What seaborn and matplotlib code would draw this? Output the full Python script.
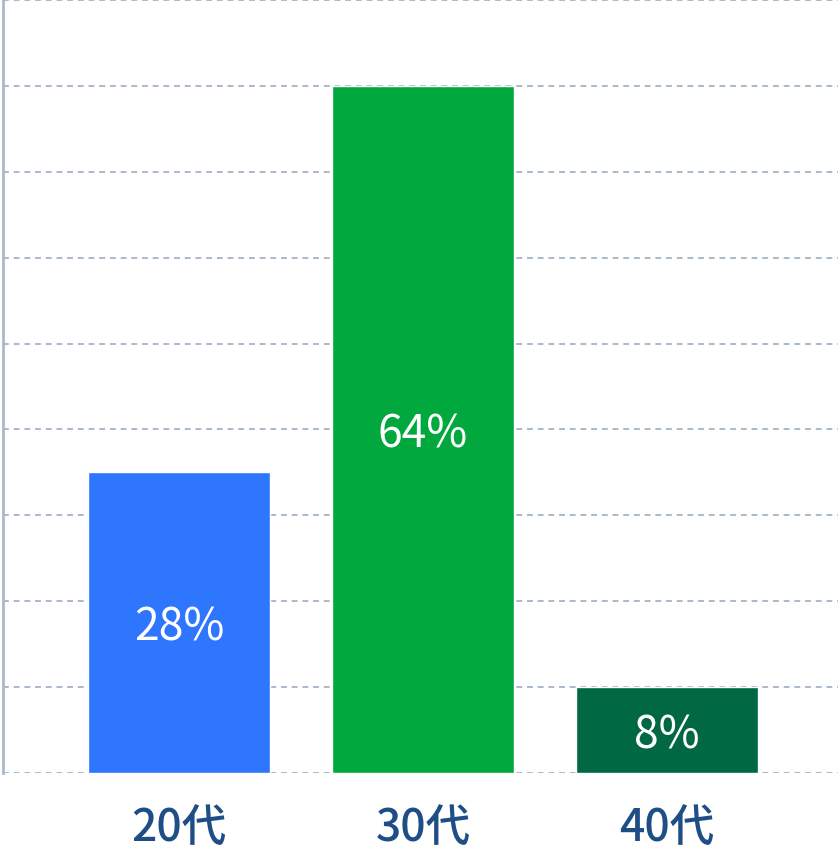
import matplotlib
matplotlib.use("Agg")
import matplotlib.pyplot as plt
import matplotlib.transforms as mtransforms
import seaborn as sns
import pandas as pd

categories = ["20代", "30代", "40代"]
values = [28, 64, 8]
bar_labels = ["28%", "64%", "8%"]
colors = ["#2F76FF", "#00A83E", "#006843"]

sns.set_style("white")
plt.rcParams['font.family'] = ['Noto Sans CJK JP', 'DejaVu Sans']

df = pd.DataFrame({"cat": categories, "val": values})

fig = plt.figure(figsize=(8.38, 8.57), dpi=100)
ax = fig.add_axes([3/838, 84/857, 835/838, 773/857])

sns.barplot(data=df, x="cat", y="val", hue="cat", palette=colors, width=0.746,
            saturation=1, legend=False, ax=ax, zorder=3)

ax.set_ylim(0, 72)
ax.set_xlim(-0.721, 2.70)
ax.set_yticks(range(0, 73, 8))
ax.set_yticklabels([])
ax.tick_params(axis='y', length=0)
ax.tick_params(axis='x', length=0, pad=24, labelsize=32, labelcolor="#1F4E86")
for t in ax.get_xticklabels():
    t.set_fontweight('medium')
ax.set_xlabel("")
ax.set_ylabel("")

ax.yaxis.grid(True, color="#A9B9CC", linestyle=(0, (3, 2.5)), linewidth=1.4, zorder=0)
ax.set_axisbelow(True)

for s in ["top", "right", "bottom"]:
    ax.spines[s].set_visible(False)
ax.spines["left"].set_color("#A9B9CC")
ax.spines["left"].set_linewidth(2)

offset = mtransforms.offset_copy(ax.transData, fig=fig, x=0, y=-5, units='dots')
for i, (v, lab) in enumerate(zip(values, bar_labels)):
    ax.text(i, v / 2, lab, ha="center", va="center", color="white", fontsize=32,
            transform=offset)

fig.savefig("out.png", dpi=100)
